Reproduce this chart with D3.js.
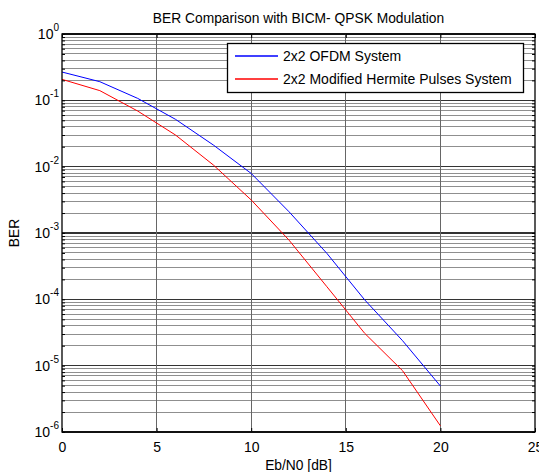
<!DOCTYPE html>
<html><head><meta charset="utf-8">
<script src="https://cdn.jsdelivr.net/npm/d3@7/dist/d3.min.js"></script>
<style>body{margin:0;background:#fff}svg{display:block}text{font-family:"Liberation Sans",Arial,sans-serif}</style>
</head><body><svg id="c" width="539" height="472"></svg>
<script>
const ebn0 = [0,2,4,6,8,10,12,14,16,18,20];
const berOFDM = [0.267,0.191,0.107,0.0517,0.0212,0.0079,0.00209,0.000493,9.8e-5,2.38e-5,4.93e-6];
const berHermite = [0.207,0.14,0.069,0.030,0.0106,0.00315,0.00078,1.55e-4,3.07e-5,8.4e-6,1.24e-6];
const seriesNames = ["2x2 OFDM System","2x2 Modified Hermite Pulses System"];
const seriesColors = ["#0000ff","#ff0000"];
const xTicks = [0,5,10,15,20,25];
const yExps = [0,-1,-2,-3,-4,-5,-6];
const title = "BER Comparison with BICM- QPSK Modulation";
const xLabel = "Eb/N0 [dB]";
const yLabel = "BER";

const svg = d3.select("#c");
const L=62, R=535, T=34, B=432;
const x = d3.scaleLinear().domain([0,25]).range([L,R]);
const y = d3.scaleLog().domain([1e-6,1]).range([B,T]);

// grid
const g = svg.append("g");
const minorVals = [];
for (let e=-6;e<0;e++) for (let m=2;m<=9;m++) minorVals.push(m*Math.pow(10,e));
g.selectAll(".mn").data(minorVals).enter().append("line")
 .attr("x1",L).attr("x2",R).attr("y1",d=>y(d)).attr("y2",d=>y(d))
 .attr("stroke","#8f8f8f").attr("stroke-width",1).attr("shape-rendering","crispEdges");
g.selectAll(".mj").data(yExps.map(e=>Math.pow(10,e))).enter().append("line")
 .attr("x1",L).attr("x2",R).attr("y1",d=>y(d)).attr("y2",d=>y(d))
 .attr("stroke","#333").attr("stroke-width",1.2).attr("shape-rendering","crispEdges");
g.selectAll(".vx").data(xTicks.slice(1,-1)).enter().append("line")
 .attr("y1",T).attr("y2",B).attr("x1",d=>x(d)).attr("x2",d=>x(d))
 .attr("stroke","#666").attr("stroke-width",1).attr("shape-rendering","crispEdges");

// lines
const line = d3.line().x((d,i)=>x(ebn0[i])).y(d=>y(d));
[berOFDM,berHermite].forEach((s,i)=>{
  svg.append("path").datum(s).attr("d",line).attr("fill","none")
   .attr("stroke",seriesColors[i]).attr("stroke-width",1);
});

// axes ticks (inside)
const ax = svg.append("g");
const allY = minorVals.concat(yExps.map(e=>Math.pow(10,e)));
const xb = d3.axisBottom(x).tickValues(xTicks).tickSize(-4).tickFormat(d3.format("d"));
const xt = d3.axisTop(x).tickValues(xTicks).tickSize(-4).tickFormat("");
const yl = d3.axisLeft(y).tickValues(allY).tickSize(-3).tickFormat("");
const yr = d3.axisRight(y).tickValues(allY).tickSize(-3).tickFormat("");
ax.append("g").attr("transform",`translate(0,${B})`).call(xb).call(s=>{
  s.select(".domain").remove();
  s.selectAll("text").attr("font-size",14).attr("fill","#000").attr("y",0).attr("dy","20").attr("font-family","Liberation Sans, Arial");
});
ax.append("g").attr("transform",`translate(0,${T})`).call(xt).call(s=>s.select(".domain").remove());
ax.append("g").attr("transform",`translate(${L},0)`).call(yl).call(s=>s.select(".domain").remove());
ax.append("g").attr("transform",`translate(${R},0)`).call(yr).call(s=>s.select(".domain").remove());
ax.selectAll(".tick line").attr("stroke","#000");

// y tick labels with superscript
const yt = svg.append("g");
yExps.forEach(e=>{
  const t = yt.append("text").attr("x",L-3).attr("y",y(Math.pow(10,e))+5)
   .attr("text-anchor","end").attr("font-size",14).attr("fill","#000");
  t.append("tspan").text("10");
  t.append("tspan").attr("dy",-8).attr("font-size",10).text(e);
});

// border
svg.append("rect").attr("x",L).attr("y",T).attr("width",R-L).attr("height",B-T)
 .attr("fill","none").attr("stroke","#000").attr("stroke-width",1.3);

// title & labels
svg.append("text").attr("x",(L+R)/2).attr("y",23).attr("text-anchor","middle")
 .attr("font-size",13.8).text(title);
svg.append("text").attr("x",(L+R)/2).attr("y",470).attr("text-anchor","middle")
 .attr("font-size",13.8).text(xLabel);
svg.append("text").attr("transform",`translate(19,${(T+B)/2}) rotate(-90)`).attr("text-anchor","middle")
 .attr("font-size",13.8).text(yLabel);

// legend
const lg = svg.append("g");
lg.append("rect").attr("x",227.5).attr("y",43.5).attr("width",296).attr("height",49)
 .attr("fill","#fff").attr("stroke","#000").attr("stroke-width",1.3);
seriesNames.forEach((n,i)=>{
  const yy = 56 + i*23;
  lg.append("line").attr("x1",235).attr("x2",278).attr("y1",yy).attr("y2",yy)
   .attr("stroke",seriesColors[i]).attr("stroke-width",1.3);
  lg.append("text").attr("x",283).attr("y",yy+4.5).attr("font-size",14).text(n);
});
</script></body></html>
